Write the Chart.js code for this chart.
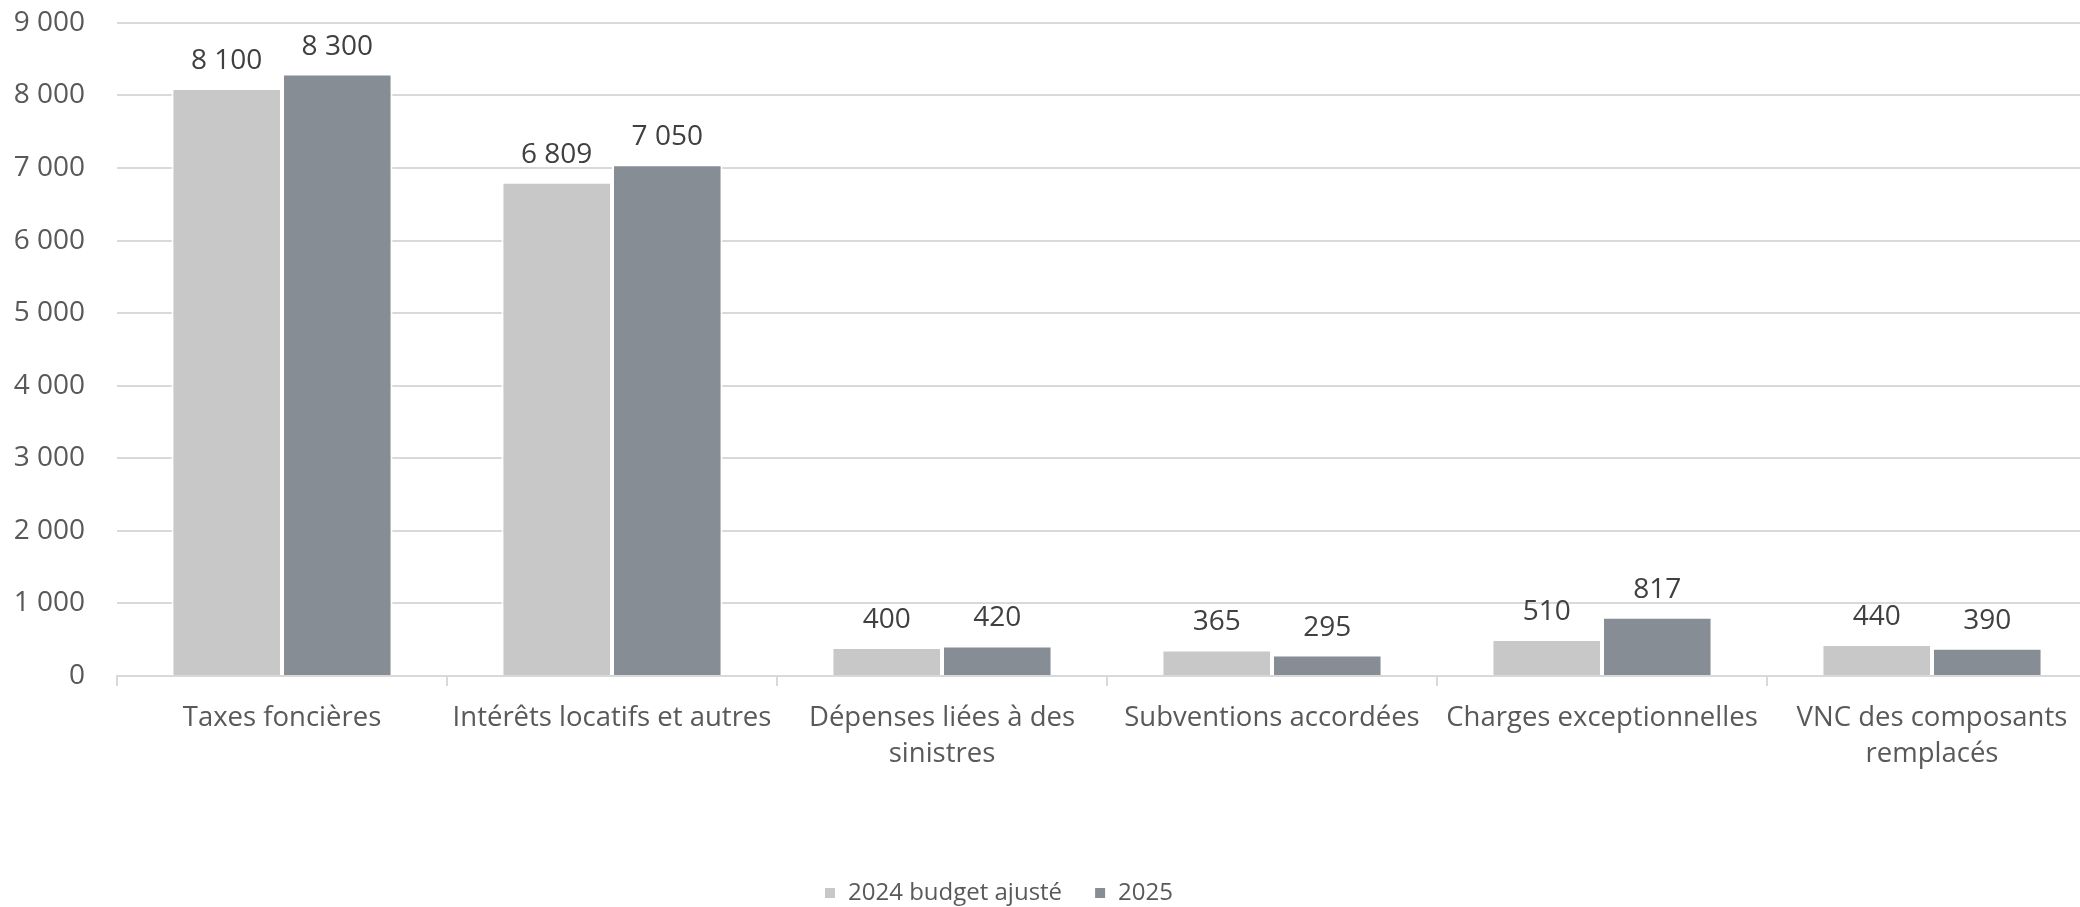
<!DOCTYPE html>
<html lang="fr">
<head>
    <meta charset="UTF-8">
    <title>Charges</title>
    <script src="https://cdn.jsdelivr.net/npm/chart.js"></script>
    <style>
        html, body {
            margin: 0;
            padding: 0;
            background: #ffffff;
            overflow: hidden;
        }
        #wrap {
            position: relative;
            width: 2080px;
            height: 907px;
            overflow: hidden;
        }
        #box {
            position: absolute;
            left: 0;
            top: -26px;
            width: 2100px;
            height: 941px;
        }
    </style>
</head>
<body>
    <div id="wrap">
        <div id="box"><canvas id="chargesChart"></canvas></div>
    </div>

    <script>
        // --- data ---
        const categories = [
            'Taxes foncières',
            'Intérêts locatifs et autres',
            ['Dépenses liées à des', 'sinistres'],
            'Subventions accordées',
            'Charges exceptionnelles',
            ['VNC des composants', 'remplacés']
        ];
        const seriesNames = ['2024 budget ajusté', '2025'];
        const budget2024 = [8100, 6809, 400, 365, 510, 440];
        const values2025 = [8300, 7050, 420, 295, 817, 390];
        const yTicks = [0, 1000, 2000, 3000, 4000, 5000, 6000, 7000, 8000, 9000];

        const FONT = "'Open Sans', 'Liberation Sans', sans-serif";
        const TEXT_GREY = '#595959';
        const LABEL_GREY = '#404040';
        const GRID = '#d9d9d9';

        // "8100" -> "8 100"
        const fmt = v => String(v).replace(/\B(?=(\d{3})+(?!\d))/g, ' ');

        // values written above each bar
        const barValues = {
            id: 'barValues',
            afterDatasetsDraw(chart) {
                const ctx = chart.ctx;
                ctx.save();
                ctx.font = '28px ' + FONT;
                ctx.fillStyle = LABEL_GREY;
                ctx.textAlign = 'center';
                ctx.textBaseline = 'bottom';
                chart.data.datasets.forEach((ds, i) => {
                    chart.getDatasetMeta(i).data.forEach((bar, j) => {
                        ctx.fillText(fmt(ds.data[j]), bar.x, bar.y - 13);
                    });
                });
                ctx.restore();
            }
        };

        // move the legend a little left of the canvas centre
        const legendShift = {
            id: 'legendShift',
            afterLayout(chart) {
                chart.legend.left -= 50;
                chart.legend.right -= 50;
            }
        };

        const ctx = document.getElementById('chargesChart').getContext('2d');
        new Chart(ctx, {
            type: 'bar',
            data: {
                labels: categories,
                datasets: [{
                    label: seriesNames[0],
                    data: budget2024,
                    backgroundColor: '#c8c8c8',
                    borderColor: '#ffffff',
                    borderWidth: 2,
                    borderSkipped: 'bottom'
                }, {
                    label: seriesNames[1],
                    data: values2025,
                    backgroundColor: '#878d94',
                    borderColor: '#ffffff',
                    borderWidth: 2,
                    borderSkipped: 'bottom'
                }]
            },
            options: {
                responsive: true,
                maintainAspectRatio: false,
                animation: false,
                datasets: {
                    bar: {
                        categoryPercentage: 0.67,
                        barPercentage: 1
                    }
                },
                layout: {
                    padding: { top: 0, right: 3, left: 0, bottom: 0 }
                },
                plugins: {
                    tooltip: { enabled: false },
                    legend: {
                        position: 'bottom',
                        labels: {
                            font: { family: FONT, size: 24 },
                            color: TEXT_GREY,
                            boxWidth: 12,
                            boxHeight: 12,
                            padding: 32
                        }
                    }
                },
                scales: {
                    y: {
                        min: 0,
                        max: 9000,
                        afterBuildTicks(scale) {
                            scale.ticks = yTicks.map(v => ({ value: v }));
                        },
                        afterFit(scale) {
                            scale.width = 117;
                        },
                        border: { display: false },
                        grid: {
                            color: GRID,
                            lineWidth: 2,
                            drawTicks: false
                        },
                        ticks: {
                            font: { family: FONT, size: 28 },
                            color: TEXT_GREY,
                            padding: 32,
                            callback: v => fmt(v)
                        }
                    },
                    x: {
                        border: { display: true, color: GRID, width: 2 },
                        grid: {
                            offset: true,
                            color: GRID,
                            lineWidth: 2,
                            drawOnChartArea: false,
                            tickLength: 10
                        },
                        ticks: {
                            font: { family: FONT, size: 27.5, lineHeight: 1.32 },
                            color: TEXT_GREY,
                            padding: 14,
                            maxRotation: 0,
                            autoSkip: false
                        },
                        afterFit(scale) {
                            scale.height = 173;
                        }
                    }
                }
            },
            plugins: [barValues, legendShift]
        });
    </script>
</body>
</html>
